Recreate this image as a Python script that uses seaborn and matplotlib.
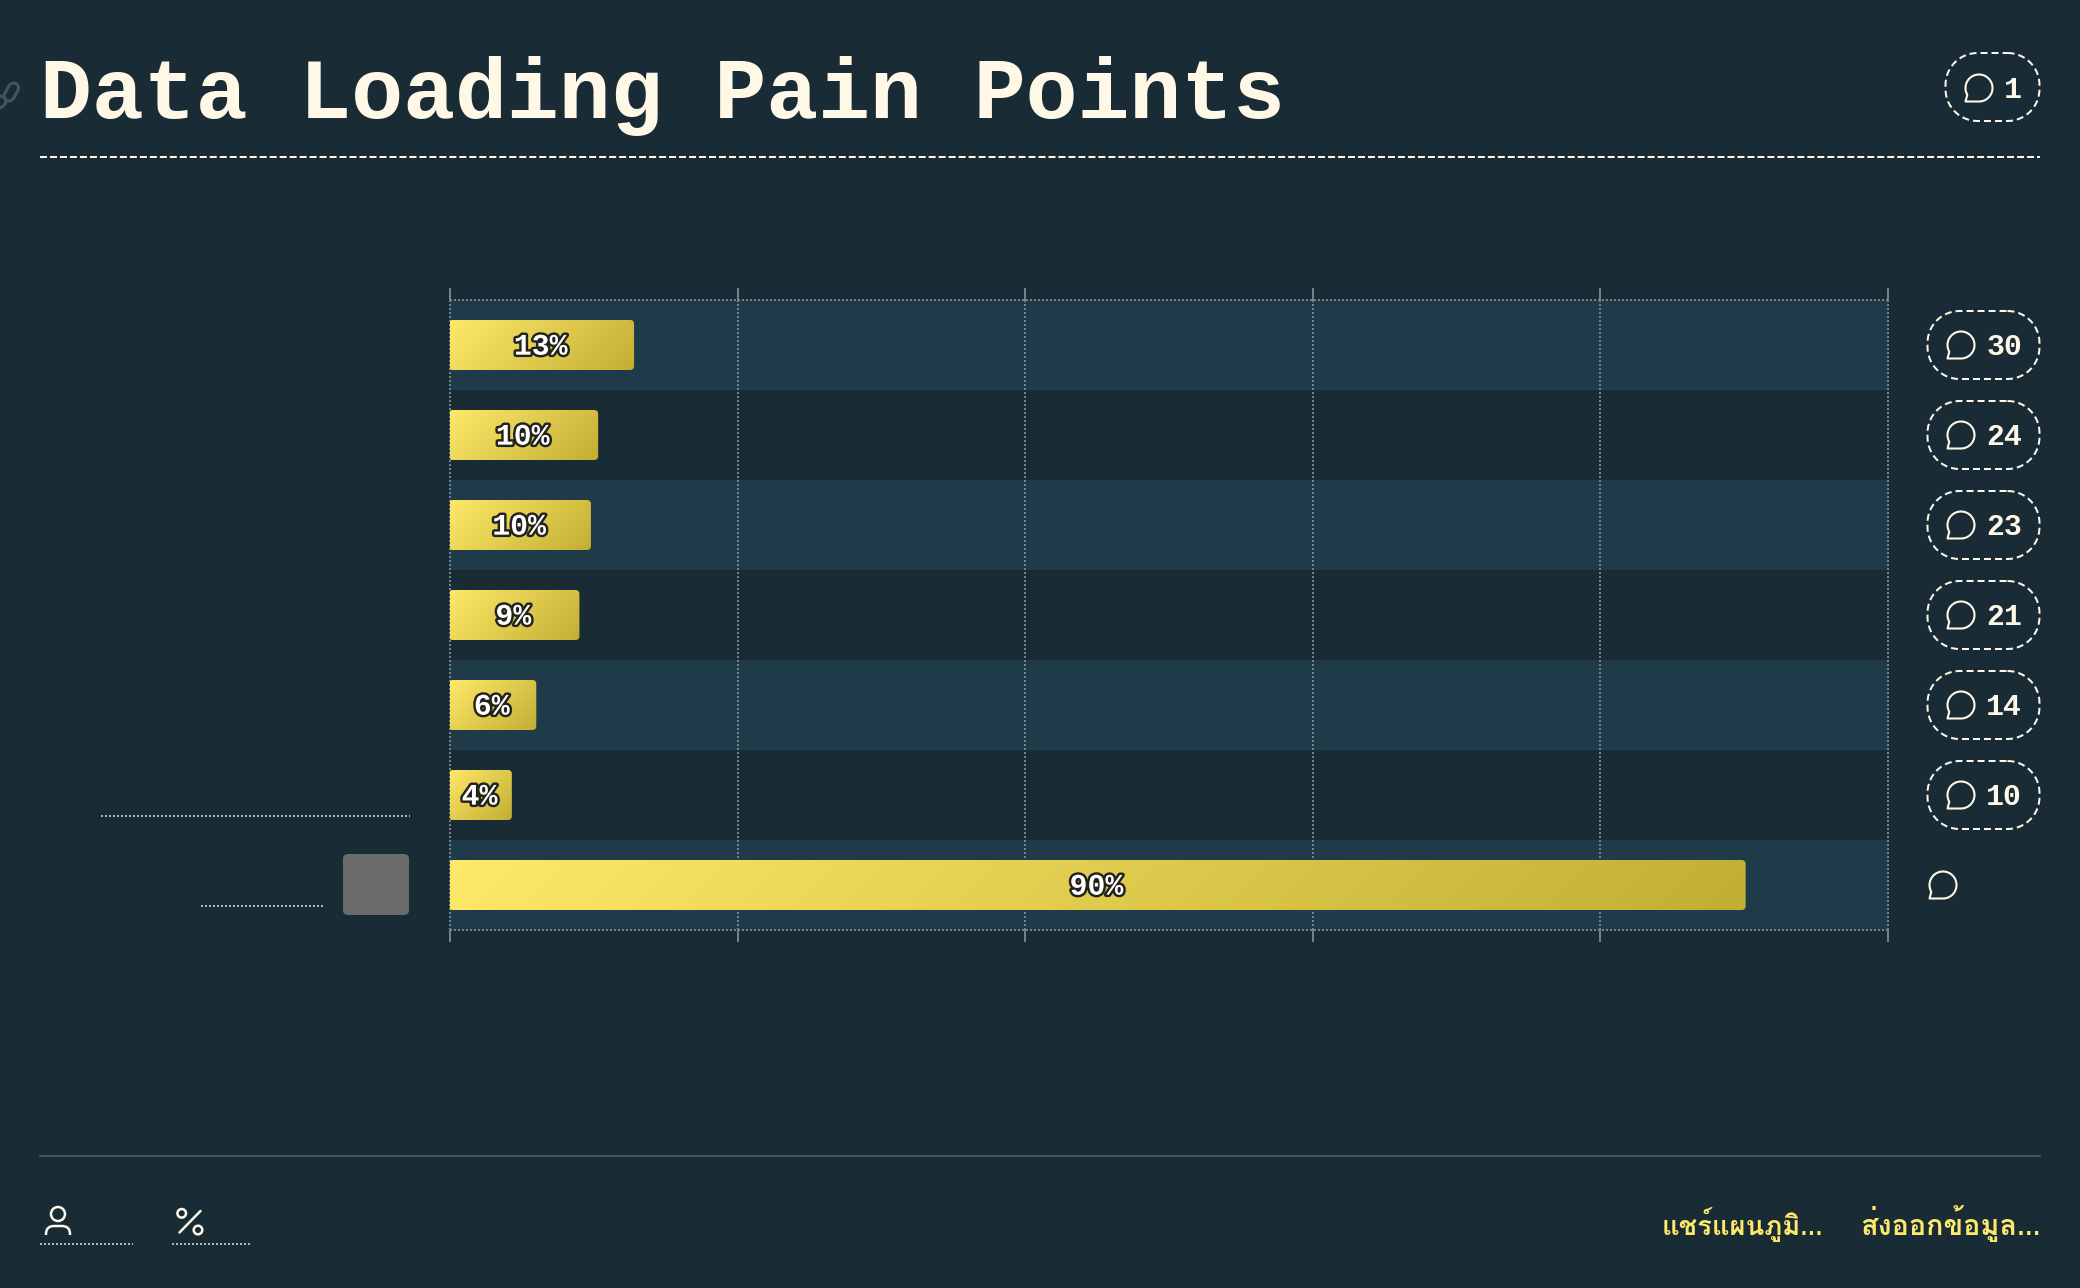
import numpy as np
import pandas as pd
import matplotlib

matplotlib.use("Agg")
import matplotlib.pyplot as plt
import matplotlib.font_manager as fm
import seaborn as sns
from matplotlib.colors import LinearSegmentedColormap
from matplotlib.patches import Circle, FancyBboxPatch, PathPatch
from matplotlib.path import Path
from matplotlib.ft2font import FT2Font
import matplotlib.patheffects as pe

# chart values
options = ["a", "b", "c", "d", "e", "f", "g"]
percents = [12.8, 10.3, 9.8, 9.0, 6.0, 4.3, 90.1]
percent_labels = ["13%", "10%", "10%", "9%", "6%", "4%", "90%"]
comments = ["30", "24", "23", "21", "14", "10", ""]
x_ticks = [0, 20, 40, 60, 80, 100]

TITLE = "Data Loading Pain Points"
TITLE_COMMENTS = "1"
SHARE = "แชร์แผนภูมิ…"
EXPORT = "ส่งออกข้อมูล…"

BG = "#192C36"
BAND = "#1F3B4A"
CREAM = "#FFF8E7"
YELLOW = "#FFE96A"
YELLOW_DARK = "#C2AE33"
GRID = "#75828A"
MONO = "Liberation Mono"
DOTS = (0, (1, 1))


def find_thai_font():
    # only some fonts carry thai, take the first one which has the glyphs
    paths = sorted({f.fname for f in fm.fontManager.ttflist})
    thai = []
    for p in paths:
        try:
            if ord("ก") in FT2Font(p).get_charmap():
                thai.append(p)
        except Exception:
            pass
    bold = [p for p in thai if "bold" in p.lower()]
    if bold:
        return fm.FontProperties(fname=bold[0])
    if thai:
        return fm.FontProperties(fname=thai[0])
    return fm.FontProperties(family="DejaVu Sans", weight="bold")


def dotted(ui, x0, x1, y, color="#AEB6BA", lw=1.44):
    ui.plot([x0, x1], [y, y], color=color, lw=lw, ls=DOTS, dash_capstyle="butt")


def chat_icon(ui, cx, cy, r=13.5):
    # circle with a small tail at the lower left, y axis points down here
    angles = np.radians(np.linspace(150, 150 + 300, 60))
    pts = [(cx + r * np.cos(a), cy + r * np.sin(a)) for a in angles]
    pts.append((cx - r, cy + r))
    pts.append(pts[0])
    codes = [Path.MOVETO] + [Path.LINETO] * (len(pts) - 2) + [Path.CLOSEPOLY]
    ui.add_patch(
        PathPatch(Path(pts, codes), fill=False, ec=CREAM, lw=1.5, joinstyle="round")
    )


def pill(ui, x0, x1, y0, y1, r=32):
    # real circular corners, the fancybox ones are too square
    pts = []
    corners = [
        (x1 - r, y0 + r, -90),
        (x1 - r, y1 - r, 0),
        (x0 + r, y1 - r, 90),
        (x0 + r, y0 + r, 180),
    ]
    for cx, cy, start in corners:
        for a in np.radians(np.linspace(start, start + 90, 16)):
            pts.append((cx + r * np.cos(a), cy + r * np.sin(a)))
    pts.append(pts[0])
    ui.plot(*zip(*pts), color=CREAM, lw=1.44, ls=(0, (3.5, 2)), dash_capstyle="butt")


def link_piece(ui, x0, y0, x1, y1):
    ui.plot([x0, x1], [y0, y1], color="#42565F", lw=9.4, solid_capstyle="round")
    ui.plot([x0, x1], [y0, y1], color=BG, lw=5.0, solid_capstyle="round")


def gradient_bars(ax, ui, bars, cmap):
    # swap every seaborn bar for a rounded bar with a 135deg gradient
    y_limits = ax.get_ylim()
    x_limits = ax.get_xlim()
    for bar in bars:
        x, y, w, h = bar.get_x(), bar.get_y(), bar.get_width(), bar.get_height()
        bar.set_visible(False)
        (px0, py0), (px1, py1) = ax.transData.transform([(x, y), (x + w, y + h)])
        # the bars sit about one pixel left of the axis line
        px0 -= 1.2
        pw, ph = abs(px1 - px0), abs(py1 - py0)
        nx, ny = max(int(pw), 2), max(int(ph), 2)
        gx, gy = np.meshgrid(np.arange(nx) + 0.5, np.arange(ny) + 0.5)
        t = (gx + gy) / (pw + ph)
        x_left = ax.transData.inverted().transform((px0, py0))[0]
        im = ax.imshow(
            t,
            extent=(x_left, x + w, y + h, y),
            origin="upper",
            aspect="auto",
            cmap=cmap,
            vmin=0,
            vmax=1,
            zorder=2,
            interpolation="bilinear",
        )
        # clip box in figure pixels, the overlay has y going down
        top = 1288 - max(py0, py1)
        clip = FancyBboxPatch(
            (px0, top),
            pw,
            ph,
            boxstyle="round,pad=0,rounding_size=4",
            transform=ui.transData,
        )
        im.set_clip_box(None)
        im.set_clip_path(clip)
    ax.set_xlim(x_limits)
    ax.set_ylim(y_limits)


def run_main():
    sns.set_theme(style="dark")
    plt.rcParams["font.family"] = [MONO, "DejaVu Sans Mono"]
    plt.rcParams["figure.facecolor"] = BG
    plt.rcParams["axes.facecolor"] = BG

    df = pd.DataFrame({"option": options, "percent": percents})

    fig = plt.figure(figsize=(20.8, 12.88), dpi=100)
    ax = fig.add_axes([450 / 2080, (1288 - 930) / 1288, 1438 / 2080, 630 / 1288])
    sns.barplot(
        data=df, y="option", x="percent", orient="h", width=50 / 90, color=YELLOW, ax=ax
    )
    bars = list(ax.containers[0])
    ax.set_xlim(0, 100)
    ax.set_ylim(len(options) - 0.5, -0.5)
    ax.set_xlabel("")
    ax.set_ylabel("")
    ax.set_yticks([])
    ax.set_xticks(x_ticks)

    # alternating row bands
    for i in range(0, len(options), 2):
        ax.axhspan(i - 0.5, i + 0.5, color=BAND, lw=0, zorder=0.1)

    # dotted grid with solid stubs outside of the plot
    ax.set_axisbelow(True)
    ax.grid(axis="x", color=GRID, lw=1.44, ls=DOTS)
    for line in ax.get_xgridlines():
        line.set_clip_on(False)
        line.set_dash_capstyle("butt")
    ax.tick_params(
        axis="x",
        length=8.6,
        width=1.44,
        color=GRID,
        top=True,
        bottom=True,
        labelbottom=False,
        direction="out",
    )
    for side in ax.spines:
        ax.spines[side].set_visible(False)
    for y in ax.get_ylim():
        ax.axhline(y, color=GRID, lw=1.44, ls=DOTS, clip_on=False, dash_capstyle="butt", zorder=1)

    # overlay in figure pixels for the page furniture
    ui = fig.add_axes([0, 0, 1, 1], zorder=5)
    ui.set_xlim(0, 2080)
    ui.set_ylim(1288, 0)
    ui.axis("off")
    ui.patch.set_alpha(0)

    cmap = LinearSegmentedColormap.from_list("bar", [YELLOW, YELLOW_DARK])
    gradient_bars(ax, ui, bars, cmap)

    for i, (value, label) in enumerate(zip(percents, percent_labels)):
        ax.text(
            value / 2 - 0.1,
            i - 0.015,
            label,
            ha="center",
            va="center_baseline",
            color="white",
            fontsize=21.5,
            fontweight="bold",
            zorder=4,
            path_effects=[pe.withStroke(linewidth=3.5, foreground="#23231C")],
        )

    # header
    ui.text(
        40, 118, TITLE, color=CREAM, fontsize=62.25, fontweight="bold", va="baseline"
    )
    ui.plot([40, 2040], [156.7, 156.7], color=CREAM, lw=1.44, ls=(0, (3.5, 1.4925)), dash_capstyle="butt")
    pill(ui, 1945.5, 2039.5, 53, 121)
    chat_icon(ui, 1979, 88)
    ui.text(
        2022, 87, TITLE_COMMENTS, color=CREAM, fontsize=21.5, fontweight="bold",
        ha="right", va="center_baseline",
    )

    # comment counts next to the rows
    for i, count in enumerate(comments):
        cy = 345 + 90 * i
        if count:
            pill(ui, 1927.5, 2039.5, cy - 34, cy + 34)
            chat_icon(ui, 1961, cy)
            ui.text(
                2022, cy - 1, count, color=CREAM, fontsize=21.5, fontweight="bold",
                ha="right", va="center_baseline",
            )
        else:
            chat_icon(ui, 1943, cy)

    # empty label placeholders left of the last rows
    dotted(ui, 101, 410, 816)
    dotted(ui, 201, 323, 906)
    ui.add_patch(
        FancyBboxPatch(
            (347, 858), 58, 53, boxstyle="round,pad=4,rounding_size=5", fc="#6B6B6B", ec="none"
        )
    )

    # clipped link icon on the left edge
    link_piece(ui, -6, 108, 1, 101)
    link_piece(ui, 9, 96, 13.5, 88)

    # footer
    ui.plot([40, 2040], [1155.7, 1155.7], color="#45535D", lw=1.6)
    ui.add_patch(Circle((58, 1214), 7, fill=False, ec=CREAM, lw=1.8))
    ui.add_patch(
        PathPatch(
            Path(
                [(46, 1235), (46, 1234), (46, 1226), (54, 1226), (62, 1226), (70, 1226), (70, 1234), (70, 1235)],
                [Path.MOVETO, Path.LINETO, Path.CURVE3, Path.CURVE3, Path.LINETO, Path.CURVE3, Path.CURVE3, Path.LINETO],
            ),
            fill=False, ec=CREAM, lw=1.8,
        )
    )
    dotted(ui, 40, 133, 1244)
    ui.add_patch(Circle((181.7, 1213.3), 4.3, fill=False, ec=CREAM, lw=1.8))
    ui.add_patch(Circle((198, 1230), 4.3, fill=False, ec=CREAM, lw=1.8))
    ui.plot([200.5, 179.5], [1211, 1232.5], color=CREAM, lw=1.8)
    dotted(ui, 172, 249.5, 1244)

    thai = find_thai_font()
    ui.text(1823, 1235, SHARE, color=YELLOW, fontproperties=thai, fontsize=19.7, ha="right", va="baseline")
    ui.text(2040, 1235, EXPORT, color=YELLOW, fontproperties=thai, fontsize=20.7, ha="right", va="baseline")

    fig.savefig("out.png", dpi=100, facecolor=BG)
    plt.close(fig)


if __name__ == "__main__":
    run_main()
